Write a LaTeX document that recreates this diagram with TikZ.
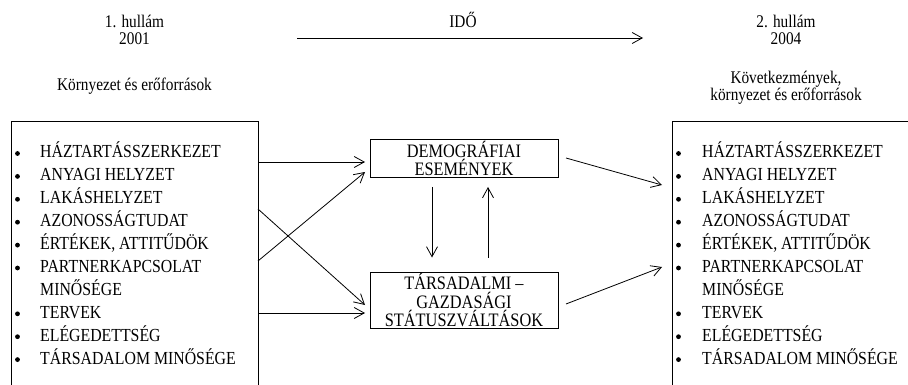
\documentclass[tikz,border=0pt]{standalone}
\usepackage{fontspec}
\setmainfont{Liberation Serif}[FakeStretch=0.86]
\usetikzlibrary{arrows.meta}
\begin{document}
\begin{tikzpicture}[x=1pt,y=-1pt,
  frame/.style={draw, line width=1pt, inner sep=0pt, anchor=north west},
  midbox/.style={draw, line width=1pt, minimum width=188pt, align=center,
    inner sep=0pt, font=\fontsize{19}{18.6}\selectfont},
  item/.style={anchor=base west, inner sep=0pt, font=\fontsize{18.4}{20}\selectfont},
  dotm/.style={circle, fill, inner sep=0pt, minimum size=4.8pt},
  caption/.style={align=center, inner sep=0pt, font=\fontsize{17.8}{17}\selectfont},
  arr/.style={line width=0.8pt, -{Straight Barb[length=10pt,width=11pt]}}]
\useasboundingbox (0,0) rectangle (908,385);
\clip (0,0) rectangle (908,385);
% captions
\node[caption] (w1) at (134.5,29.5) {1. hullám\\2001};
\node[caption] (ido) at (463,20) {IDŐ};
\node[caption] (w2) at (786,29.5) {2. hullám\\2004};
\node[caption] (env1) at (134.5,86) {Környezet és erőforrások};
\node[caption] (env2) at (786,88) {Következmények,\\környezet és erőforrások};
% time arrow
\coordinate (t0) at (297,38);
\coordinate (t1) at (643,38);
\draw[arr] (t0) -- (t1);
% side boxes
\node[frame, minimum width=247pt, minimum height=290pt] (L) at (11,121) {};
\node[frame, minimum width=260pt, minimum height=290pt] (R) at (672,121) {};
% items
\foreach \t [count=\i from 0] in {HÁZTARTÁSSZERKEZET, ANYAGI HELYZET, LAKÁSHELYZET,
    AZONOSSÁGTUDAT, {ÉRTÉKEK, ATTITŰDÖK}, PARTNERKAPCSOLAT, MINŐSÉGE, TERVEK,
    ELÉGEDETTSÉG, TÁRSADALOM MINŐSÉGE}{
  \pgfmathsetmacro{\yy}{158+22.9*\i}
  \node[item] (li\i) at (40,\yy) {\t};
  \node[item] (ri\i) at (702,\yy) {\t};
  \ifnum\i=6 \else
    \node[dotm] (ld\i) at (17.5,\yy-4.5) {};
    \node[dotm] (rd\i) at (678.5,\yy-4.5) {};
  \fi
}
% middle boxes
\node[midbox, minimum height=38pt] (D) at (464,158.5) {DEMOGRÁFIAI\\ESEMÉNYEK};
\node[midbox, minimum height=56pt] (S) at (464,300) {TÁRSADALMI –\\GAZDASÁGI\\STÁTUSZVÁLTÁSOK};
% connector points
\coordinate (a1) at (258,162);
\coordinate (a2) at (258,261);
\coordinate (a3) at (258,209);
\coordinate (a4) at (258,313);
\coordinate (b1) at (365,162);
\coordinate (b2) at (365,172);
\coordinate (b3) at (365,305);
\coordinate (b4) at (365,313);
\draw[arr] (a1) -- (b1);
\draw[arr] (a2) -- (b2);
\draw[arr] (a3) -- (b3);
\draw[arr] (a4) -- (b4);
% vertical
\draw[arr, shorten <=9pt, shorten >=14pt] (D.south -| 432,0) -- (S.north -| 432,0);
\draw[arr, shorten <=14pt, shorten >=9pt] (S.north -| 488,0) -- (D.south -| 488,0);
% right arrows
\coordinate (c1) at (566,158);
\coordinate (c2) at (566,304);
\coordinate (d1) at (662,185);
\coordinate (d2) at (662,267);
\draw[arr] (c1) -- (d1);
\draw[arr] (c2) -- (d2);
\end{tikzpicture}
\end{document}
